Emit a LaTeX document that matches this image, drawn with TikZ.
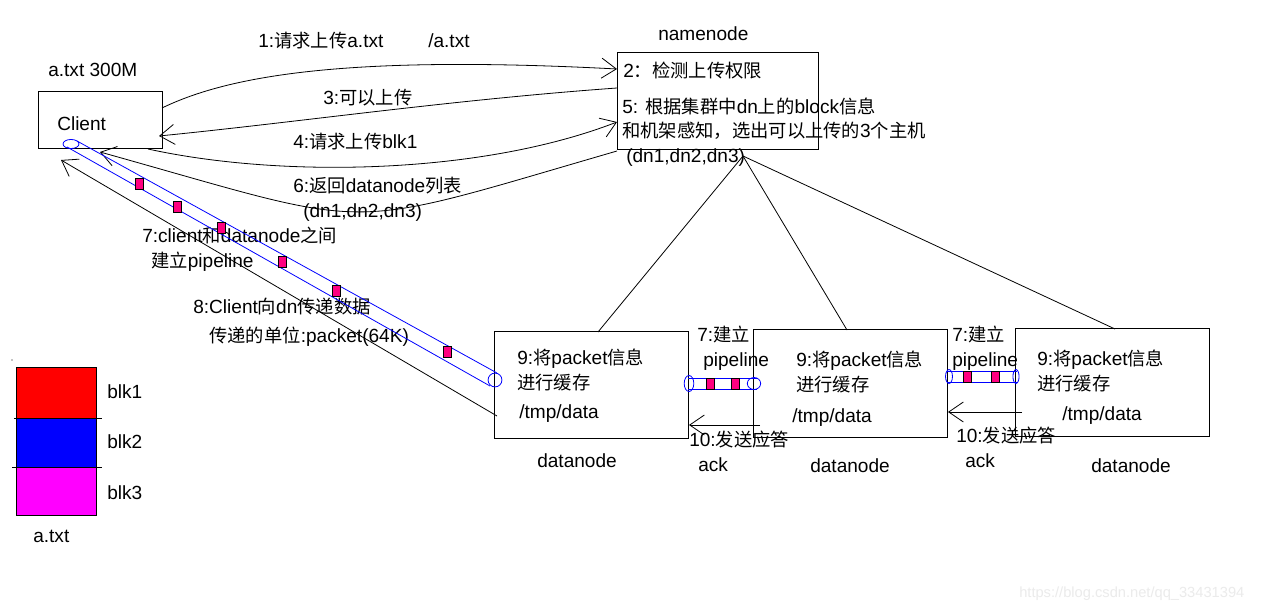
\documentclass[tikz,border=0pt]{standalone}
\usepackage{fontspec}
\setmainfont{Liberation Sans}
\newfontfamily\zhfont{Noto Sans CJK SC}[Scale=0.96]
\newcommand\zh[1]{{\zhfont #1}}
\usetikzlibrary{arrows.meta,fit}

\definecolor{pktpink}{RGB}{255,0,128}
\definecolor{tubeblue}{RGB}{0,0,255}
\definecolor{blkred}{RGB}{255,0,0}
\definecolor{blkblue}{RGB}{0,0,255}
\definecolor{blkmag}{RGB}{255,0,255}

\begin{document}
\begin{tikzpicture}[x=0.75pt,y=-0.75pt,
  lbl/.style={anchor=base west, inner sep=0pt, font=\fontsize{14.3}{17}\selectfont},
  wmark/.style={anchor=base west, inner sep=0pt, font=\fontsize{11}{13}\selectfont, text=black!8},
  box/.style={draw, line width=0.75pt, inner sep=0pt},
  link/.style={line width=0.6pt},
  arr/.style={link, -{Straight Barb[length=11pt,width=15pt,line width=0.6pt]}},
  tube/.style={draw=tubeblue, line width=0.6pt},
  pkt/.style={draw, fill=pktpink, line width=0.6pt, inner sep=0pt, minimum width=6pt, minimum height=8.25pt},
]
\fill[white] (0,0) rectangle (1271,609);
\useasboundingbox (0,0) rectangle (1271,609);

% ---------- boxes ----------
\node[box, fit={(38,92) (162,149)}] (client) {};
\node[box, fit={(617,53) (818,150)}] (nn) {};
\node[box, fit={(494,332) (688,439)}] (dn1) {};
\node[box, fit={(753,330) (947,438)}] (dn2) {};
\node[box, fit={(1015,329) (1209,437)}] (dn3) {};

% ---------- labels ----------
\node[lbl] (tfile)   at (48,77)   {a.txt 300M};
\node[lbl] (tclient) at (57,131)  {Client};
\node[lbl] (tnn)     at (658,41)  {namenode};
\node[lbl] (t1)      at (258,48)  {1:\zh{请求上传}a.txt};
\node[lbl] (t1b)     at (428,48)  {/a.txt};
\node[lbl] (t3)      at (323,105) {3:\zh{可以上传}};
\node[lbl] (t4)      at (293,149) {4:\zh{请求上传}blk1};
\node[lbl] (t6)      at (293,193) {6:\zh{返回}datanode\zh{列表}};
\node[lbl] (t6b)     at (303,218) {(dn1,dn2,dn3)};
\node[lbl] (t7)      at (142,243) {7:client\zh{和}datanode\zh{之间}};
\node[lbl] (t7b)     at (151,268) {\zh{建立}pipeline};
\node[lbl] (t8)      at (193,314) {8:Client\zh{向}dn\zh{传递数据}};
\node[lbl] (t8b)     at (209,343) {\zh{传递的单位}:packet(64K)};

\node[lbl] (n2)  at (623,78)  {2\zh{：检测上传权限}};
\node[lbl] (n5)  at (622,114) {5: \zh{根据集群中}dn\zh{上的}block\zh{信息}};
\node[lbl] (n5b) at (622,138) {\zh{和机架感知，选出可以上传的}3\zh{个主机}};
\node[lbl] (n5c) at (626,163) {(dn1,dn2,dn3)};

\node[lbl] (a1) at (517,365) {9:\zh{将}packet\zh{信息}};
\node[lbl] (a2) at (517,390) {\zh{进行缓存}};
\node[lbl] (a3) at (519,419) {/tmp/data};
\node[lbl] (a4) at (537,468) {datanode};

\node[lbl] (b1) at (796,367) {9:\zh{将}packet\zh{信息}};
\node[lbl] (b2) at (796,392) {\zh{进行缓存}};
\node[lbl] (b3) at (792,423) {/tmp/data};
\node[lbl] (b4) at (810,473) {datanode};

\node[lbl] (c1l) at (1037,366) {9:\zh{将}packet\zh{信息}};
\node[lbl] (c2l) at (1037,391) {\zh{进行缓存}};
\node[lbl] (c3l) at (1062,421) {/tmp/data};
\node[lbl] (c4l) at (1091,473) {datanode};

\node[lbl] (p1)  at (697,342) {7:\zh{建立}};
\node[lbl] (p1b) at (703,367) {pipeline};
\node[lbl] (p2)  at (952,342) {7:\zh{建立}};
\node[lbl] (p2b) at (952,367) {pipeline};

\node[lbl] (k1)  at (689,446) {10:\zh{发送应答}};
\node[lbl] (k1b) at (698,471) {ack};
\node[lbl] (k2)  at (956,442) {10:\zh{发送应答}};
\node[lbl] (k2b) at (965,467) {ack};

% ---------- connector end points ----------
\coordinate (cA) at (162,108);
\coordinate (nA) at (617,69);
\coordinate (nB) at (617,88);
\coordinate (cB) at (159,136);
\coordinate (cC) at (148,149);
\coordinate (nC) at (617,122);
\coordinate (nD) at (617,151);
\coordinate (cD) at (100,152);
\coordinate (dA) at (497,416);
\coordinate (cE) at (61,160);
\coordinate (nE) at (743,156);
\coordinate (dT1) at (598,332);
\coordinate (dT2) at (847,330);
\coordinate (dT3) at (1115,329);
\coordinate (ack1s) at (760,425);
\coordinate (ack1e) at (689,425);
\coordinate (ack2s) at (1022,412);
\coordinate (ack2e) at (948,412);

% ---------- client <-> namenode ----------
\draw[arr] (cA) .. controls (230,75) and (350,55) .. (nA);
\draw[arr] (nB) .. controls (450,100) and (300,122) .. (cB);
\draw[arr] (cC) .. controls (280,178) and (480,175) .. (nC);
\draw[arr] (nD) .. controls (334,233) and (383,231) .. (cD);

% ---------- namenode -> datanodes ----------
\draw[link] (nE) -- (dT1);
\draw[link] (nE) -- (dT2);
\draw[link] (nE) -- (dT3);

% ---------- acks ----------
\draw[arr] (dA) -- (cE);
\draw[arr] (ack1s) -- (ack1e);
\draw[arr] (ack2s) -- (ack2e);

% ---------- pipeline client -> dn1 ----------
\coordinate (u1) at (77,141);
\coordinate (u2) at (497,373);
\coordinate (l1) at (67,147);
\coordinate (l2) at (490,386);
\draw[tube] (u1) -- (u2);
\draw[tube] (l1) -- (l2);
\draw[tube] (71,144) ellipse [x radius=6pt, y radius=3.4pt];
\draw[tube] (495,380) ellipse [x radius=5.2pt, y radius=5.2pt];
\node[pkt] (q1) at (139,184) {};
\node[pkt] (q2) at (177,207) {};
\node[pkt] (q3) at (221,228) {};
\node[pkt] (q4) at (282,262) {};
\node[pkt] (q5) at (336,291) {};
\node[pkt] (q6) at (447,352) {};

% ---------- pipeline dn1 -> dn2 ----------
\draw[tube] (688,378) -- (757,378);
\draw[tube] (688,389) -- (757,389);
\draw[tube] (689,383.5) ellipse [x radius=3.6pt, y radius=6pt];
\draw[tube] (754,383.5) ellipse [x radius=5pt, y radius=4.5pt];
\node[pkt] (r1) at (710.5,383.5) {};
\node[pkt] (r2) at (735.5,383.5) {};

% ---------- pipeline dn2 -> dn3 ----------
\draw[tube] (947,371) -- (1017,371);
\draw[tube] (947,382) -- (1017,382);
\draw[tube] (949,376.5) ellipse [x radius=2.6pt, y radius=5.2pt];
\draw[tube] (1016,376.5) ellipse [x radius=2.3pt, y radius=5.2pt];
\node[pkt] (s1) at (967,376.5) {};
\node[pkt] (s2) at (995,376.5) {};

% ---------- block legend ----------
\filldraw[fill=blkred, line width=0.75pt] (16,368) rectangle (96,419);
\filldraw[fill=blkblue, line width=0.75pt] (16,419) rectangle (96,467);
\filldraw[fill=blkmag, line width=0.75pt] (16,467) rectangle (96,515);
\draw[line width=0.75pt] (14,419) -- (102,419);
\draw[line width=0.75pt] (12,467) -- (102,467);
\fill (12,360) circle (0.5pt);
\node[lbl] (g1) at (107,399) {blk1};
\node[lbl] (g2) at (107,449) {blk2};
\node[lbl] (g3) at (107,499) {blk3};
\node[lbl] (g4) at (33,542)  {a.txt};

\node[wmark] (wm) at (1019,597) {https://blog.csdn.net/qq\_33431394};
\end{tikzpicture}
\end{document}
